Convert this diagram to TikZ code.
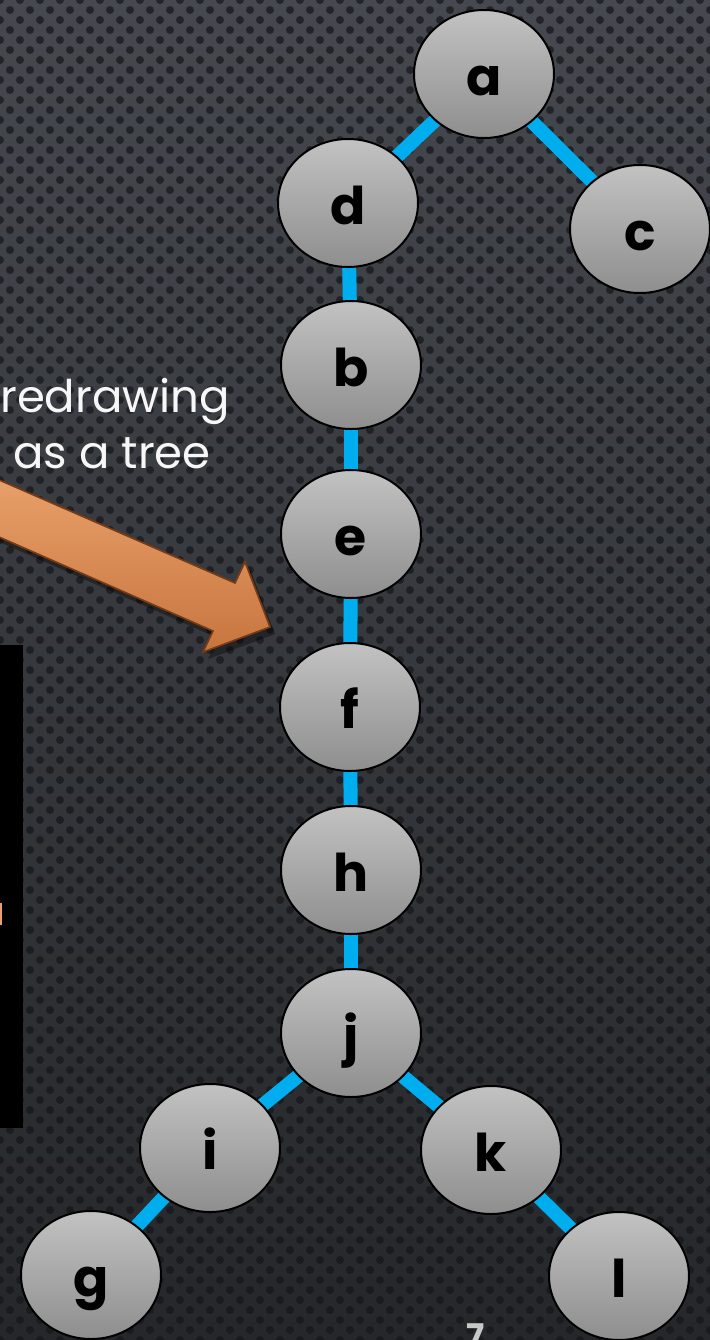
\documentclass[tikz,border=0pt]{standalone}
\usepackage{fontspec}
\setmainfont{Poppins}
\usetikzlibrary{shapes.geometric}
\pgfdeclarelayer{bglayer}
\pgfdeclarelayer{edgelayer}
\pgfsetlayers{bglayer,edgelayer,main}
\definecolor{bgtop}{HTML}{45484E}
\definecolor{bgbot}{HTML}{25272A}
\definecolor{dotc}{HTML}{14161A}
\definecolor{edgeblue}{HTML}{00AEEF}
\definecolor{nodetop}{HTML}{C2C2C2}
\definecolor{nodebot}{HTML}{8E8E8E}
\definecolor{arrtop}{HTML}{E9A06A}
\definecolor{arrbot}{HTML}{C7753F}
\definecolor{arrline}{HTML}{7A3B12}
\definecolor{pagenum}{HTML}{C8C8C8}
\begin{document}
\begin{tikzpicture}[x=0.5pt,y=-0.5pt,
 vert/.style={ellipse, draw=black, line width=1pt, top color=nodetop, bottom color=nodebot,
   minimum width=70pt, minimum height=64pt, inner sep=0pt,
   font=\fontsize{26}{26}\selectfont\bfseries, text height=21pt, text depth=0pt},
 link/.style={draw=edgeblue, line width=7pt},
 caption/.style={text=white!94!gray, font=\fontsize{22.5}{22.5}\selectfont, anchor=base, inner sep=0pt}]
\useasboundingbox (0,0) rectangle (710,1340);
\clip (0,0) rectangle (710,1340);
\begin{pgfonlayer}{bglayer}
\shade[top color=bgtop, bottom color=bgbot] (0,0) rectangle (710,1340);
\foreach \r in {0,...,134}{
  \pgfmathtruncatemacro{\off}{mod(\r,2)*10}
  \fill[dotc, fill opacity=0.7] \foreach \c in {0,...,36}{({\c*20+\off},{\r*10}) circle[radius=4]};
}
% arrow with shadow
\fill[black, opacity=0.35] (-5,483) -- (240,590) -- (250,569) -- (275,634) -- (208,659) -- (218,638) -- (-5,540) -- cycle;
\draw[arrline, line width=0.8pt, top color=arrtop, bottom color=arrbot]
  (-10,476) -- (235,583) -- (245,562) -- (270,627) -- (203,652) -- (213,631) -- (-10,533) -- cycle;
\fill[black] (0,645) rectangle (23,1128);
\fill[arrtop] (0,903) rectangle (2,925);
\end{pgfonlayer}

\node[caption] (t1) at (115,412) {redrawing};
\node[caption] (t2) at (112,468) {as a tree};

\node[vert] (a) at (484,74) {a};
\node[vert] (d) at (348,203) {d};
\node[vert] (c) at (640,229) {c};
\node[vert] (b) at (351,365) {b};
\node[vert] (e) at (351,534) {e};
\node[vert] (f) at (350,707) {f};
\node[vert] (h) at (351,870) {h};
\node[vert] (j) at (351,1033) {j};
\node[vert] (i) at (210,1148) {i};
\node[vert] (k) at (491,1150) {k};
\node[vert] (g) at (91,1275) {g};
\node[vert] (l) at (619,1276) {l};

\begin{pgfonlayer}{edgelayer}
\draw[link] (a.center) -- (d.center);
\draw[link] (a.center) -- (c.center);
\draw[link] (d.center) -- (b.center);
\draw[link] (b.center) -- (e.center);
\draw[link] (e.center) -- (f.center);
\draw[link] (f.center) -- (h.center);
\draw[link] (h.center) -- (j.center);
\draw[link] (j.center) -- (i.center);
\draw[link] (j.center) -- (k.center);
\draw[link] (i.center) -- (g.center);
\draw[link] (k.center) -- (l.center);
\end{pgfonlayer}

\node[font=\fontsize{17}{17}\selectfont\bfseries, text=pagenum, anchor=base, inner sep=0pt] (pg) at (476,1348) {7};
\end{tikzpicture}
\end{document}
